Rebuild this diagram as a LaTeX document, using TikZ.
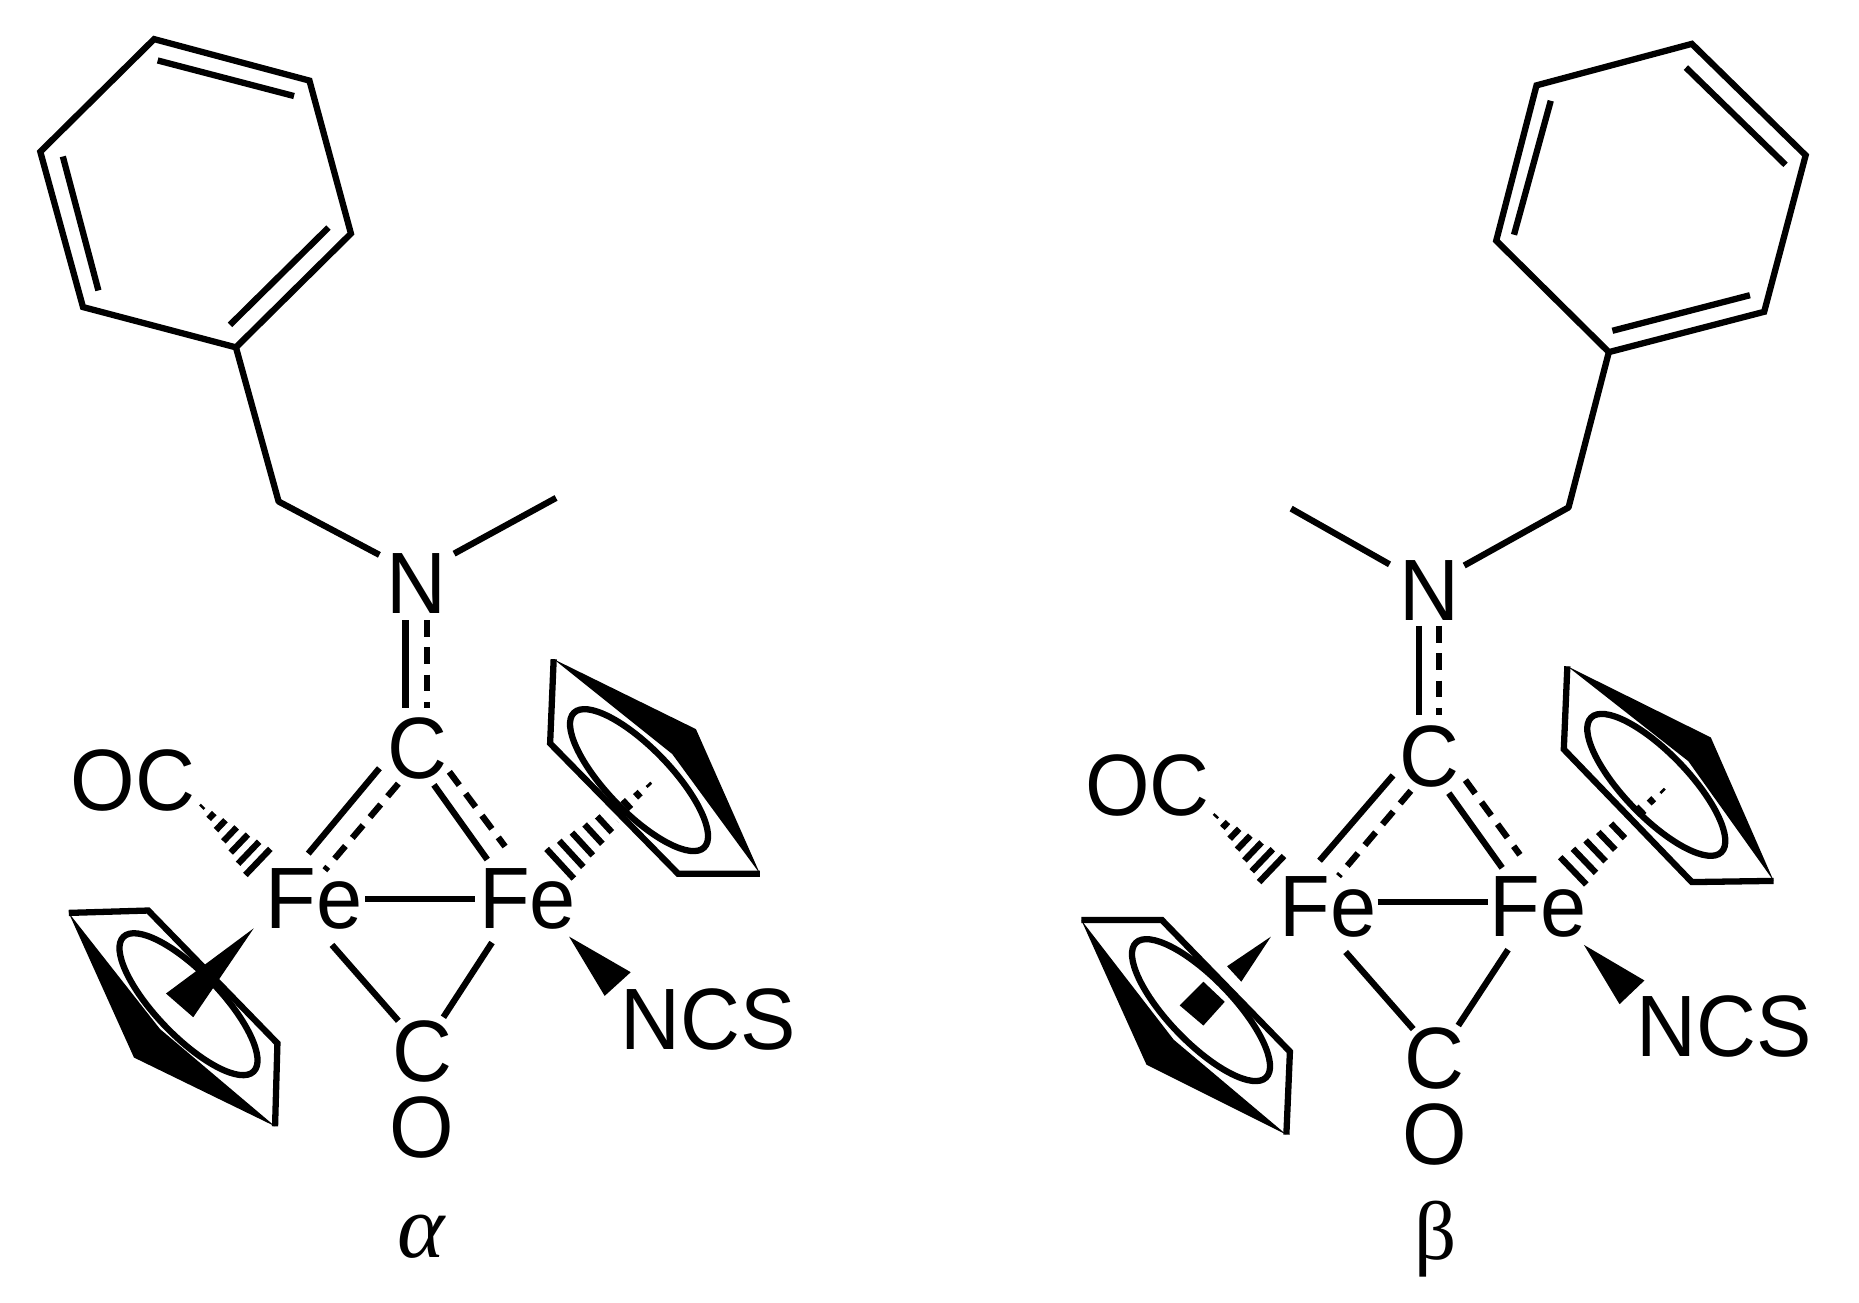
\documentclass[tikz,border=0pt]{standalone}
\usepackage{fontspec}
\usepackage{graphicx}
\setmainfont{Liberation Sans}
\newfontfamily\greekfont{Liberation Serif}
\usetikzlibrary{calc}
\newcommand{\tallt}[1]{\scalebox{1}[1.05]{#1}}
\tikzset{
  bond/.style={line width=5.3pt,line cap=butt,line join=miter},
  dashbond/.style={line width=5.3pt,dash pattern=on 14pt off 9pt},
  ringline/.style={line width=5.3pt},
  atom/.style={font=\fontsize{70}{70}\selectfont,inner sep=0pt,anchor=base,yshift=-1.5pt},
  glabel/.style={font=\greekfont\fontsize{70}{70}\selectfont,inner sep=0pt,anchor=base},
  solidw/.style={fill=black,draw=none},
  halo/.style={white,line width=11pt}
}
% hash bond: tip, wide corners a and b, number of lines minus one
\newcommand{\hashbond}[4]{%
  \foreach \t in {0,...,#4}{%
    \pgfmathsetmacro{\f}{0.07+0.93*\t/#4}
    \draw[line width=5.3pt] ($(#1)!\f!(#2)$) -- ($(#1)!\f!(#3)$);
  }}
\begin{document}
\begin{tikzpicture}[x=1pt,y=-1pt]
\useasboundingbox (0,0) rectangle (1568,1099);
\fill[white] (0,0) rectangle (1568,1099);

%================ alpha ================
\coordinate (ar1) at (130,33);\coordinate (ar2) at (261,68);\coordinate (ar3) at (296,197);
\coordinate (ar4) at (199,293);\coordinate (ar5) at (70,259);\coordinate (ar6) at (34,128);
\coordinate (ai1) at (133,51);\coordinate (ai2) at (248,81);
\coordinate (ai3) at (53,132);\coordinate (ai4) at (83,245);
\coordinate (ai5) at (277,192);\coordinate (ai6) at (194,274);
\coordinate (ach) at (235,423);\coordinate (ame) at (469,420);
\coordinate (anl) at (320,468);\coordinate (anr) at (383,467);
\draw[bond] (ar1)--(ar2)--(ar3)--(ar4)--(ar5)--(ar6)--cycle;
\draw[bond] (ai1)--(ai2) (ai3)--(ai4) (ai5)--(ai6);
\draw[bond,line join=round] (ar4)--(ach)--(anl);
\draw[bond] (anr)--(ame);

\node[atom] (aN) at (351,516) {\tallt{N}};
\node[atom] (aCt) at (352,655) {\tallt{C}};
\node[atom] (aOC) at (112,682) {\tallt{OC}};
\node[atom] (aFe1) at (265,782) {\tallt{Fe}};
\node[atom] (aFe2) at (445,782) {\tallt{Fe}};
\node[atom] (aCb) at (356,911) {\tallt{C}};
\node[atom] (aO) at (356,975) {\tallt{O}};
\node[atom] (aNCS) at (597,884) {\tallt{NCS}};
\node[glabel,font=\greekfont\itshape\fontsize{76}{76}\selectfont] (aalpha) at (355,1061) {α};

\coordinate (a1s) at (342,523);\coordinate (a1e) at (342,597);
\coordinate (a2s) at (360,523);\coordinate (a2e) at (360,597);
\draw[bond] (a1s)--(a1e);
\draw[dashbond] (a2s)--(a2e);
\coordinate (a3s) at (320,648);\coordinate (a3e) at (260,720);
\coordinate (a4s) at (336,661);\coordinate (a4e) at (274,734);
\coordinate (a5s) at (366,662);\coordinate (a5e) at (411,725);
\coordinate (a6s) at (379,651);\coordinate (a6e) at (426,714);
\draw[bond] (a3s)--(a3e) (a5s)--(a5e);
\draw[dashbond] (a4s)--(a4e) (a6s)--(a6e);
\coordinate (a7s) at (308,758);\coordinate (a7e) at (401,758);
\draw[bond] (a7s)--(a7e);
\coordinate (a8s) at (280,797);\coordinate (a8e) at (336,861);
\coordinate (a9s) at (415,795);\coordinate (a9e) at (374,858);
\draw[bond] (a8s)--(a8e) (a9s)--(a9e);

% OC hash
\coordinate (ah1t) at (167,677);\coordinate (ah1a) at (228,716);\coordinate (ah1b) at (207,738);
\hashbond{ah1t}{ah1a}{ah1b}{6}
% NCS wedge
\coordinate (aw1) at (480,790);\coordinate (aw2) at (532,820);\coordinate (aw3) at (510,840);
\fill[solidw] (aw1)--(aw2)--(aw3)--cycle;

% right Cp, alpha
\coordinate (ah2t) at (553,657);\coordinate (ah2a) at (461,716);\coordinate (ah2b) at (484,741);
\hashbond{ah2t}{ah2a}{ah2b}{8}
\coordinate (ap1) at (467,556);\coordinate (ap2) at (464,627);\coordinate (ap3) at (572,737);
\coordinate (ap4) at (641,737);\coordinate (ap5) at (587,615);\coordinate (ap6) at (567,636);
\draw[halo] (ap2)--(ap3);
\fill[black] (ap1)--(ap5)--(ap4)--(ap6)--cycle;
\draw[bond] (ap1)--(ap2)--(ap3)--(ap4);
\draw[ringline] (539,658) circle[x radius=79pt,y radius=27pt,rotate=-46];

% left Cp, alpha
\coordinate (aq1) at (58,770);\coordinate (aq2) at (125,768);\coordinate (aq3) at (234,880);
\coordinate (aq4) at (232,950);\coordinate (aq5) at (113,892);\coordinate (aq6) at (135,868);
\fill[black] (aq1)--(aq5)--(aq4)--(aq6)--cycle;
\draw[bond] (aq1)--(aq2)--(aq3)--(aq4);
\draw[ringline] (159,847) circle[x radius=79pt,y radius=27pt,rotate=-46];
\coordinate (aw4) at (214,783);\coordinate (aw5) at (140,838);\coordinate (aw6) at (163,858);
\fill[solidw] (aw4)--(aw5)--(aw6)--cycle;

%================ beta ================
\coordinate (br1) at (1427,37);\coordinate (br2) at (1523,131);\coordinate (br3) at (1488,263);
\coordinate (br4) at (1357,297);\coordinate (br5) at (1262,203);\coordinate (br6) at (1296,72);
\coordinate (bi1) at (1422,57);\coordinate (bi2) at (1506,139);
\coordinate (bi3) at (1476,249);\coordinate (bi4) at (1360,279);
\coordinate (bi5) at (1308,85);\coordinate (bi6) at (1277,198);
\coordinate (bch) at (1323,428);\coordinate (bme) at (1089,429);
\coordinate (bnr) at (1235,477);\coordinate (bnl) at (1172,476);
\draw[bond] (br1)--(br2)--(br3)--(br4)--(br5)--(br6)--cycle;
\draw[bond] (bi1)--(bi2) (bi3)--(bi4) (bi5)--(bi6);
\draw[bond,line join=round] (br4)--(bch)--(bnr);
\draw[bond] (bnl)--(bme);

\node[atom] (bN) at (1206,522) {\tallt{N}};
\node[atom] (bCt) at (1206,662) {\tallt{C}};
\node[atom] (bOC) at (968,686) {\tallt{OC}};
\node[atom] (bFe1) at (1120,788) {\tallt{Fe}};
\node[atom] (bFe2) at (1297,788) {\tallt{Fe}};
\node[atom] (bCb) at (1210,917) {\tallt{C}};
\node[atom] (bO) at (1210,981) {\tallt{O}};
\node[atom] (bNCS) at (1454,890) {\tallt{NCS}};
\node[glabel] (bbeta) at (1211,1062) {β};

\coordinate (b1s) at (1197,528);\coordinate (b1e) at (1197,603);
\coordinate (b2s) at (1214,528);\coordinate (b2e) at (1214,603);
\draw[bond] (b1s)--(b1e);
\draw[dashbond] (b2s)--(b2e);
\coordinate (b3s) at (1175,654);\coordinate (b3e) at (1113,726);
\coordinate (b4s) at (1190,667);\coordinate (b4e) at (1129,739);
\coordinate (b5s) at (1222,669);\coordinate (b5e) at (1267,732);
\coordinate (b6s) at (1236,658);\coordinate (b6e) at (1282,721);
\draw[bond] (b3s)--(b3e) (b5s)--(b5e);
\draw[dashbond] (b4s)--(b4e) (b6s)--(b6e);
\coordinate (b7s) at (1162,761);\coordinate (b7e) at (1255,761);
\draw[bond] (b7s)--(b7e);
\coordinate (b8s) at (1135,803);\coordinate (b8e) at (1192,868);
\coordinate (b9s) at (1272,801);\coordinate (b9e) at (1230,865);
\draw[bond] (b8s)--(b8e) (b9s)--(b9e);

\coordinate (bh1t) at (1022,685);\coordinate (bh1a) at (1083,722);\coordinate (bh1b) at (1062,744);
\hashbond{bh1t}{bh1a}{bh1b}{6}
\coordinate (bw1) at (1336,797);\coordinate (bw2) at (1387,827);\coordinate (bw3) at (1366,847);
\fill[solidw] (bw1)--(bw2)--(bw3)--cycle;

% right Cp, beta
\coordinate (bh2t) at (1408,662);\coordinate (bh2a) at (1316,723);\coordinate (bh2b) at (1338,746);
\hashbond{bh2t}{bh2a}{bh2b}{8}
\coordinate (bp1) at (1322,562);\coordinate (bp2) at (1319,632);\coordinate (bp3) at (1427,744);
\coordinate (bp4) at (1496,743);\coordinate (bp5) at (1443,622);\coordinate (bp6) at (1424,642);
\draw[halo] (bp2)--(bp3);
\fill[black] (bp1)--(bp5)--(bp4)--(bp6)--cycle;
\draw[bond] (bp1)--(bp2)--(bp3)--(bp4);
\draw[ringline] (1397,662) circle[x radius=79pt,y radius=27pt,rotate=-46];

% left Cp, beta
\coordinate (bw4) at (1072,790);\coordinate (bw5) at (1035,815);\coordinate (bw6) at (1047,828);
\fill[solidw] (bw4)--(bw5)--(bw6)--cycle;
\coordinate (bw7) at (1015,828);\coordinate (bw8) at (995,848);\coordinate (bw9) at (1015,865);\coordinate (bw10) at (1033,845);
\fill[solidw] (bw7)--(bw8)--(bw9)--(bw10)--cycle;
\coordinate (bq1) at (912,776);\coordinate (bq2) at (980,776);\coordinate (bq3) at (1088,887);
\coordinate (bq4) at (1085,957);\coordinate (bq5) at (967,898);\coordinate (bq6) at (990,877);
\fill[black] (bq1)--(bq5)--(bq4)--(bq6)--cycle;
\draw[bond] (bq1)--(bq2)--(bq3)--(bq4);
\draw[ringline] (1013,852) circle[x radius=79pt,y radius=27pt,rotate=-46];
\end{tikzpicture}
\end{document}
